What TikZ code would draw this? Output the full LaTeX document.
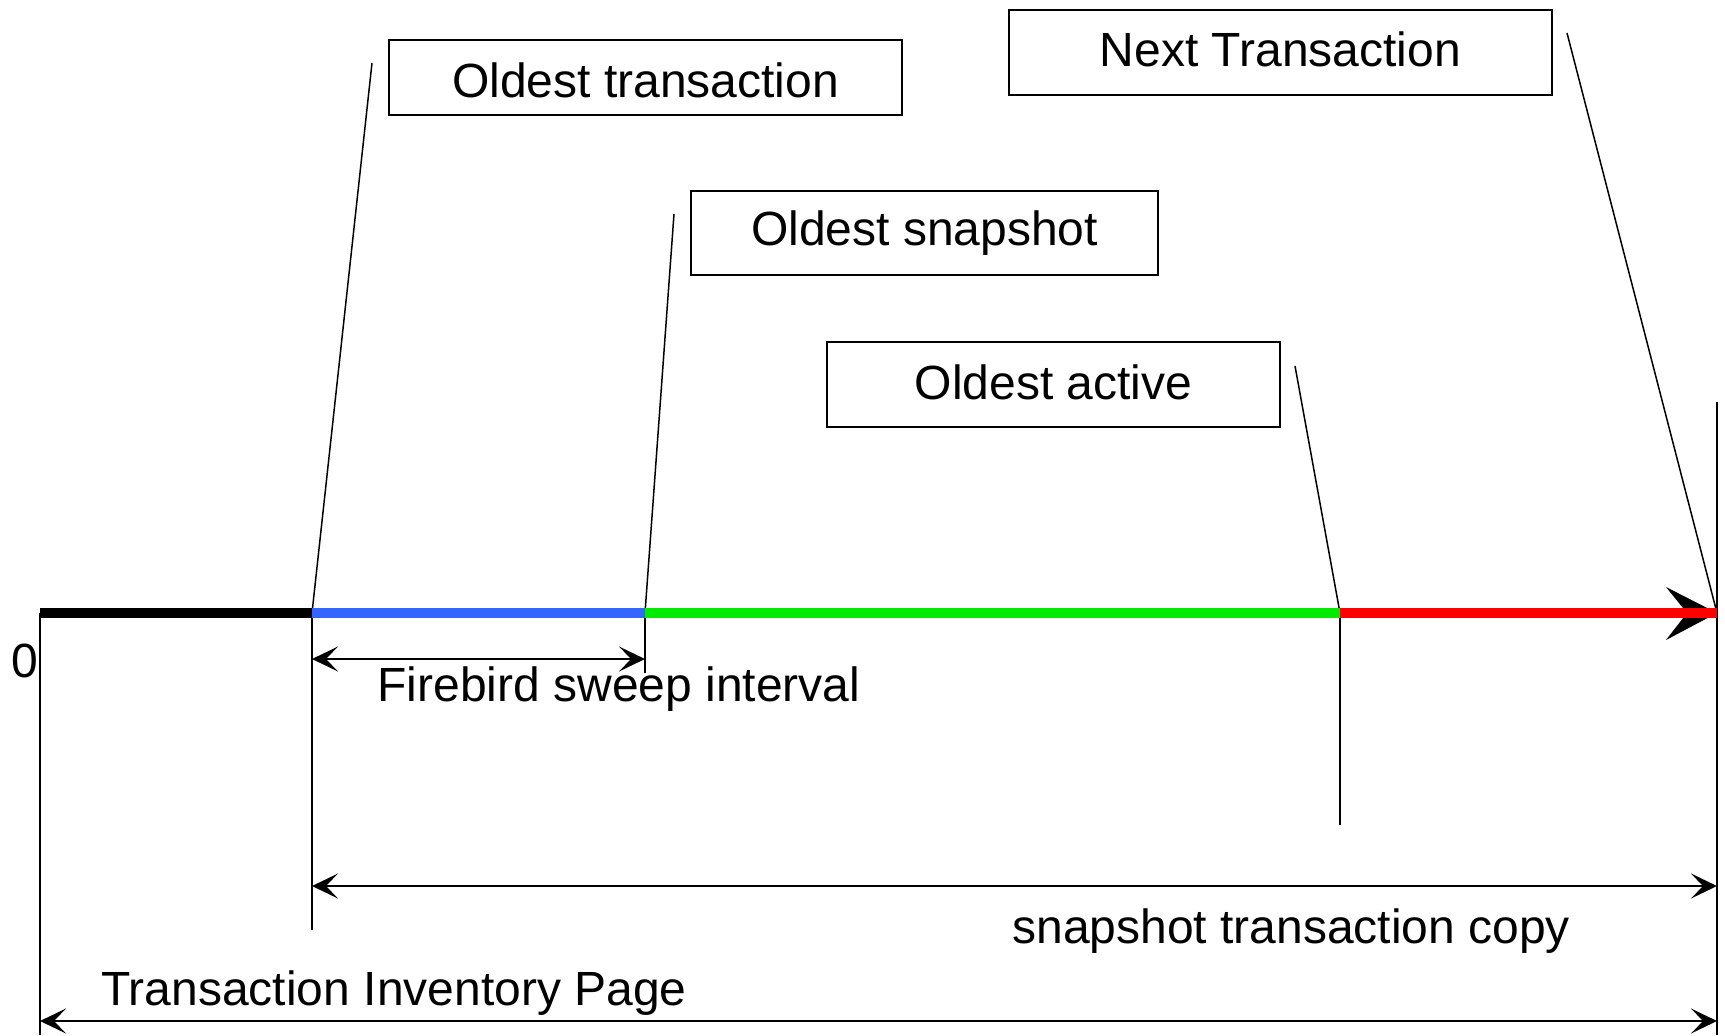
\documentclass[tikz,border=0pt]{standalone}
\usepackage{fontspec}
\setmainfont{Liberation Sans}
\usetikzlibrary{arrows.meta}
\definecolor{segblue}{RGB}{51,102,255}
\definecolor{seggreen}{RGB}{0,235,0}
\definecolor{segred}{RGB}{255,0,0}
\begin{document}
\begin{tikzpicture}[x=0.5pt,y=-0.5pt,
  font=\fontsize{24pt}{28pt}\selectfont,
  labelbox/.style={draw,line width=1pt,inner sep=0pt,anchor=north west},
  thinline/.style={line width=0.75pt},
  seg/.style={line width=4.6pt,line cap=butt},
  dim/.style={line width=0.9pt,{Stealth[length=13pt,width=12.5pt,inset=6pt]}-{Stealth[length=13pt,width=12.5pt,inset=6pt]}},
  txt/.style={inner sep=0pt,anchor=base west}]
\useasboundingbox (0,0) rectangle (1725,1035);
% coordinates on the main line
\coordinate (p0) at (40,613);
\coordinate (p1) at (312,613);
\coordinate (p2) at (645,613);
\coordinate (p3) at (1340,613);
\coordinate (p4) at (1717,613);
% boxes
\node[labelbox,minimum width=513*0.5pt,minimum height=75*0.5pt] (bOT) at (388,39) {};
\node at ([yshift=-1.5pt]bOT.center) {Oldest transaction};
\node[labelbox,minimum width=467*0.5pt,minimum height=84*0.5pt] (bOS) at (690,190) {};
\node at (bOS.center) {Oldest snapshot};
\node[labelbox,minimum width=453*0.5pt,minimum height=85*0.5pt] (bOA) at (826,341) {};
\node at ([yshift=1pt]bOA.center) {Oldest active};
\node[labelbox,minimum width=543*0.5pt,minimum height=85*0.5pt] (bNT) at (1008,9) {};
\node at ([yshift=1.5pt]bNT.center) {Next Transaction};
% leader ends
\coordinate (l1) at (372,63);
\coordinate (l2) at (674,214);
\coordinate (l3) at (1295,366);
\coordinate (l4) at (1567,33);
\draw[thinline] (p1) -- (l1);
\draw[thinline] (p2) -- (l2);
\draw[thinline] (p3) -- (l3);
\draw[thinline] (p4) -- (l4);
% vertical lines
\coordinate (v0) at (40,1035);
\coordinate (v1) at (312,930);
\coordinate (v2) at (645,673);
\coordinate (v3) at (1340,825);
\coordinate (v4t) at (1717,402);
\coordinate (v4b) at (1717,1035);
\draw[thinline] (p0) -- (v0);
\draw[thinline] (p1) -- (v1);
\draw[thinline] (p2) -- (v2);
\draw[thinline] (p3) -- (v3);
\draw[thinline] (v4t) -- (v4b);
% arrow head of main line
\coordinate (h1) at (1666,587);
\coordinate (h2) at (1687,613);
\coordinate (h3) at (1666,640);
\fill[black] (p4) -- (h1) -- (h2) -- (h3) -- cycle;
% main coloured line
\draw[seg,black] (p0) -- (p1);
\draw[seg,segblue] (p1) -- (p2);
\draw[seg,seggreen] (p2) -- (p3);
\draw[seg,segred] (p3) -- (p4);
% dimension arrows
\coordinate (a1) at (312,659);
\coordinate (a2) at (645,659);
\coordinate (b1) at (312,886);
\coordinate (b2) at (1717,886);
\coordinate (c1) at (40,1021);
\coordinate (c2) at (1717,1021);
\draw[dim] (a1) -- (a2);
\draw[dim] (b1) -- (b2);
\draw[dim] (c1) -- (c2);
% labels
\node[txt] (zero) at (11,677) {0};
\node[txt] (sweep) at (377,701) {Firebird sweep interval};
\node[txt] (snap) at (1012,943) {snapshot transaction copy};
\node[txt] (tip) at (101,1005) {Transaction Inventory Page};
\end{tikzpicture}
\end{document}
